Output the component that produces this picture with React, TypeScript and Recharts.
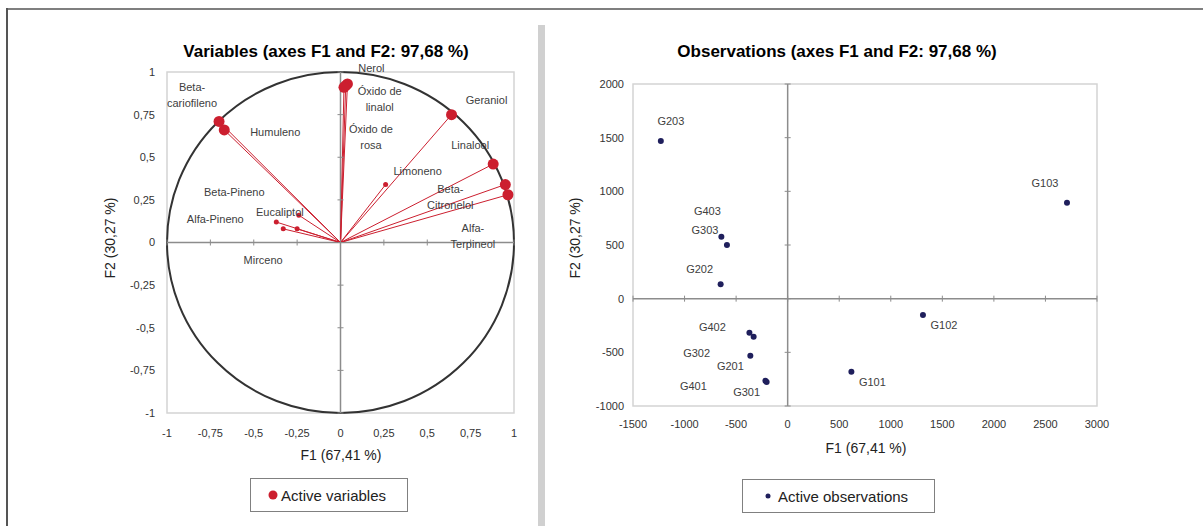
import React from 'react'
import {
  ScatterChart,
  Scatter,
  XAxis,
  YAxis,
  ReferenceLine,
  ReferenceArea,
  ReferenceDot,
} from 'recharts'

// correlation circle: variables on F1 / F2
const variableNames = [
  'Nerol',
  'Óxido de linalol',
  'Óxido de rosa',
  'Geraniol',
  'Linalool',
  'Beta-Citronelol',
  'Alfa-Terpineol',
  'Limoneno',
  'Beta-cariofileno',
  'Humuleno',
  'Eucaliptol',
  'Alfa-Pineno',
  'Beta-Pineno',
  'Mirceno',
]
const variableF1 = [0.04, 0.03, 0.02, 0.64, 0.88, 0.95, 0.965, 0.26, -0.7, -0.67, -0.24, -0.37, -0.33, -0.25]
const variableF2 = [0.93, 0.92, 0.91, 0.75, 0.46, 0.34, 0.28, 0.34, 0.71, 0.66, 0.16, 0.12, 0.08, 0.08]
const circleTicks = [-1, -0.75, -0.5, -0.25, 0, 0.25, 0.5, 0.75, 1]

// observations on F1 / F2
const obsNames = ['G203', 'G403', 'G303', 'G202', 'G402', 'G302', 'G201', 'G401', 'G301', 'G103', 'G102', 'G101']
const obsF1 = [-1230, -643, -589, -650, -371, -330, -362, -216, -204, 2709, 1312, 618]
const obsF2 = [1470, 578, 500, 134, -317, -354, -531, -764, -776, 894, -152, -680]
const obsXTicks = [-1500, -1000, -500, 0, 500, 1000, 1500, 2000, 2500, 3000]
const obsYTicks = [-1000, -500, 0, 500, 1000, 1500, 2000]

const variables = variableNames.map((name, i) => ({ name, f1: variableF1[i], f2: variableF2[i] }))
const observations = obsNames.map((name, i) => ({ name, f1: obsF1[i], f2: obsF2[i] }))

// label placement (px from the point, centre of first line)
const varLabelPos: Record<string, { dx: number; dy: number; wrap?: boolean }> = {
  Nerol: { dx: 24, dy: -16 },
  'Óxido de linalol': { dx: 34, dy: 5, wrap: true },
  'Óxido de rosa': { dx: 27, dy: 42, wrap: true },
  Geraniol: { dx: 35, dy: -15 },
  Linalool: { dx: -23, dy: -19 },
  'Beta-Citronelol': { dx: -55, dy: 4, wrap: true },
  'Alfa-Terpineol': { dx: -35, dy: 33, wrap: true },
  Limoneno: { dx: 32, dy: -14 },
  'Beta-cariofileno': { dx: -27, dy: -34, wrap: true },
  Humuleno: { dx: 51, dy: 2 },
  Eucaliptol: { dx: -19, dy: -3 },
  'Alfa-Pineno': { dx: -61, dy: -3 },
  'Beta-Pineno': { dx: -49, dy: -37 },
  Mirceno: { dx: -34, dy: 31 },
}
const obsLabelPos: Record<string, [number, number]> = {
  G203: [10, -20],
  G403: [-14, -26],
  G303: [-22, -15],
  G202: [-21, -15],
  G402: [-37, -6],
  G302: [-57, 16],
  G201: [-20, 10],
  G401: [-72, 5],
  G301: [-20, 10],
  G103: [-22, -20],
  G102: [21, 10],
  G101: [21, 10],
}

const RED = '#cc1f2f'
const NAVY = '#1f1f5c'
const FONT = '"Liberation Sans", Arial, sans-serif'
const tickStyle = { fontSize: 11, fill: '#333', fontFamily: FONT }

const comma = (v: number) => String(v).replace('.', ',')

function splitName(name: string) {
  const sp = name.lastIndexOf(' ')
  const hy = name.lastIndexOf('-')
  if (hy > sp) return [name.slice(0, hy + 1), name.slice(hy + 1)]
  return [name.slice(0, sp), name.slice(sp + 1)]
}

function VariablePoint(props: any) {
  const { cx, cy, payload } = props
  const pos = varLabelPos[payload.name]
  const big = Math.hypot(payload.f1, payload.f2) > 0.8
  const lines = pos.wrap ? splitName(payload.name) : [payload.name]
  return (
    <g>
      <circle cx={cx} cy={cy} r={big ? 5.5 : 2.5} fill={RED} />
      {lines.map((t, i) => (
        <text
          key={i}
          x={cx + pos.dx}
          y={cy + pos.dy + i * 16}
          textAnchor="middle"
          dominantBaseline="central"
          fontSize={11}
          fontFamily={FONT}
          fill="#404040"
        >
          {t}
        </text>
      ))}
    </g>
  )
}

function ObsPoint(props: any) {
  const { cx, cy, payload } = props
  const [dx, dy] = obsLabelPos[payload.name]
  return (
    <g>
      <circle cx={cx} cy={cy} r={3} fill={NAVY} />
      <text
        x={cx + dx}
        y={cy + dy}
        textAnchor="middle"
        dominantBaseline="central"
        fontSize={11}
        fontFamily={FONT}
        fill="#404040"
      >
        {payload.name}
      </text>
    </g>
  )
}

const unitCircle = (p: any) => (
  <ellipse
    cx={p.x + p.width / 2}
    cy={p.y + p.height / 2}
    rx={p.width / 2}
    ry={p.height / 2}
    fill="none"
    stroke="#333"
    strokeWidth={2}
  />
)
const hTick = (p: any) => <line x1={p.cx - 3} x2={p.cx + 3} y1={p.cy} y2={p.cy} stroke="#8c8c8c" />
const vTick = (p: any) => <line x1={p.cx} x2={p.cx} y1={p.cy - 3} y2={p.cy + 3} stroke="#8c8c8c" />

const abs = (x: number, y: number, extra: React.CSSProperties = {}): React.CSSProperties => ({
  position: 'absolute',
  left: x,
  top: y,
  transform: 'translate(-50%, -50%)',
  whiteSpace: 'nowrap',
  ...extra,
})

export default function App() {
  return (
    <div style={{ position: 'relative', width: 1203, height: 526, background: '#fff', fontFamily: FONT, overflow: 'hidden' }}>
      <style>{'body{margin:0}'}</style>
      <div style={{ position: 'absolute', left: 6, top: 8, width: 1197, height: 2, background: '#7f7f7f' }} />
      <div style={{ position: 'absolute', left: 6, top: 8, width: 1.5, height: 518, background: '#555' }} />
      <div style={{ position: 'absolute', left: 538, top: 25, width: 7, height: 501, background: '#d0d0d0' }} />

      <div style={{ position: 'absolute', left: 0, top: 0 }}>
        <ScatterChart width={540} height={526} margin={{ top: 72, right: 26, bottom: 83, left: 107 }}>
          <XAxis
            type="number"
            dataKey="f1"
            domain={[-1, 1]}
            ticks={circleTicks}
            interval={0}
            tickFormatter={comma}
            tick={tickStyle}
            tickSize={0}
            tickMargin={16}
            height={30}
            axisLine={false}
            tickLine={false}
          />
          <YAxis
            type="number"
            dataKey="f2"
            domain={[-1, 1]}
            ticks={circleTicks}
            interval={0}
            tickFormatter={comma}
            tick={tickStyle}
            tickSize={0}
            tickMargin={12}
            width={60}
            axisLine={false}
            tickLine={false}
          />
          <ReferenceArea x1={-1} x2={1} y1={-1} y2={1} fill="none" stroke="#d4d4d4" strokeWidth={1.5} />
          <ReferenceLine x={0} stroke="#8c8c8c" strokeWidth={1.5} />
          <ReferenceLine y={0} stroke="#8c8c8c" strokeWidth={1.5} />
          {circleTicks.map((t) => (
            <ReferenceDot key={'h' + t} x={0} y={t} r={0} shape={hTick} />
          ))}
          {circleTicks.map((t) => (
            <ReferenceDot key={'v' + t} x={t} y={0} r={0} shape={vTick} />
          ))}
          <ReferenceArea x1={-1} x2={1} y1={-1} y2={1} shape={unitCircle} />
          {variables.map((v) => (
            <ReferenceLine
              key={v.name}
              segment={[
                { x: 0, y: 0 },
                { x: v.f1, y: v.f2 },
              ]}
              stroke={RED}
              strokeWidth={1}
            />
          ))}
          <Scatter data={variables} shape={VariablePoint} isAnimationActive={false} />
        </ScatterChart>
      </div>

      <div style={{ position: 'absolute', left: 545, top: 0 }}>
        <ScatterChart width={658} height={526} margin={{ top: 84, right: 106, bottom: 90, left: 28 }}>
          <XAxis
            type="number"
            dataKey="f1"
            domain={[-1500, 3000]}
            ticks={obsXTicks}
            interval={0}
            tick={tickStyle}
            tickSize={0}
            tickMargin={14}
            height={30}
            axisLine={false}
            tickLine={false}
          />
          <YAxis
            type="number"
            dataKey="f2"
            domain={[-1000, 2000]}
            ticks={obsYTicks}
            interval={0}
            tick={tickStyle}
            tickSize={0}
            tickMargin={9}
            width={60}
            axisLine={false}
            tickLine={false}
          />
          <ReferenceArea x1={-1500} x2={3000} y1={-1000} y2={2000} fill="none" stroke="#d4d4d4" strokeWidth={1.5} />
          <ReferenceLine x={0} stroke="#8c8c8c" strokeWidth={1.5} />
          <ReferenceLine y={0} stroke="#8c8c8c" strokeWidth={1.5} />
          {obsYTicks.map((t) => (
            <ReferenceDot key={'h' + t} x={0} y={t} r={0} shape={hTick} />
          ))}
          {obsXTicks.map((t) => (
            <ReferenceDot key={'v' + t} x={t} y={0} r={0} shape={vTick} />
          ))}
          <Scatter data={observations} shape={ObsPoint} isAnimationActive={false} />
        </ScatterChart>
      </div>

      <div style={abs(326, 52, { fontWeight: 'bold', fontSize: 17, color: '#000' })}>
        Variables (axes F1 and F2: 97,68 %)
      </div>
      <div style={abs(837, 52, { fontWeight: 'bold', fontSize: 17, color: '#000' })}>
        Observations (axes F1 and F2: 97,68 %)
      </div>

      <div style={abs(341, 455, { fontSize: 14, color: '#222' })}>F1 (67,41 %)</div>
      <div style={abs(866, 448, { fontSize: 14, color: '#222' })}>F1 (67,41 %)</div>
      <div style={abs(110, 238, { fontSize: 14, color: '#222', transform: 'translate(-50%, -50%) rotate(-90deg)' })}>
        F2 (30,27 %)
      </div>
      <div style={abs(575, 238, { fontSize: 14, color: '#222', transform: 'translate(-50%, -50%) rotate(-90deg)' })}>
        F2 (30,27 %)
      </div>

      <div
        style={{
          position: 'absolute',
          left: 250,
          top: 478,
          width: 158,
          height: 34,
          boxSizing: 'border-box',
          border: '1px solid #808080',
          display: 'flex',
          alignItems: 'center',
          paddingLeft: 17,
          fontSize: 15,
          color: '#222',
        }}
      >
        <svg width={10} height={10} style={{ marginRight: 3 }}>
          <circle cx={5} cy={5} r={4.5} fill={RED} />
        </svg>
        Active variables
      </div>
      <div
        style={{
          position: 'absolute',
          left: 742,
          top: 479,
          width: 193,
          height: 34,
          boxSizing: 'border-box',
          border: '1px solid #808080',
          display: 'flex',
          alignItems: 'center',
          paddingLeft: 21,
          fontSize: 15,
          color: '#222',
        }}
      >
        <svg width={8} height={8} style={{ marginRight: 6 }}>
          <circle cx={4} cy={4} r={2.5} fill={NAVY} />
        </svg>
        Active observations
      </div>
    </div>
  )
}
